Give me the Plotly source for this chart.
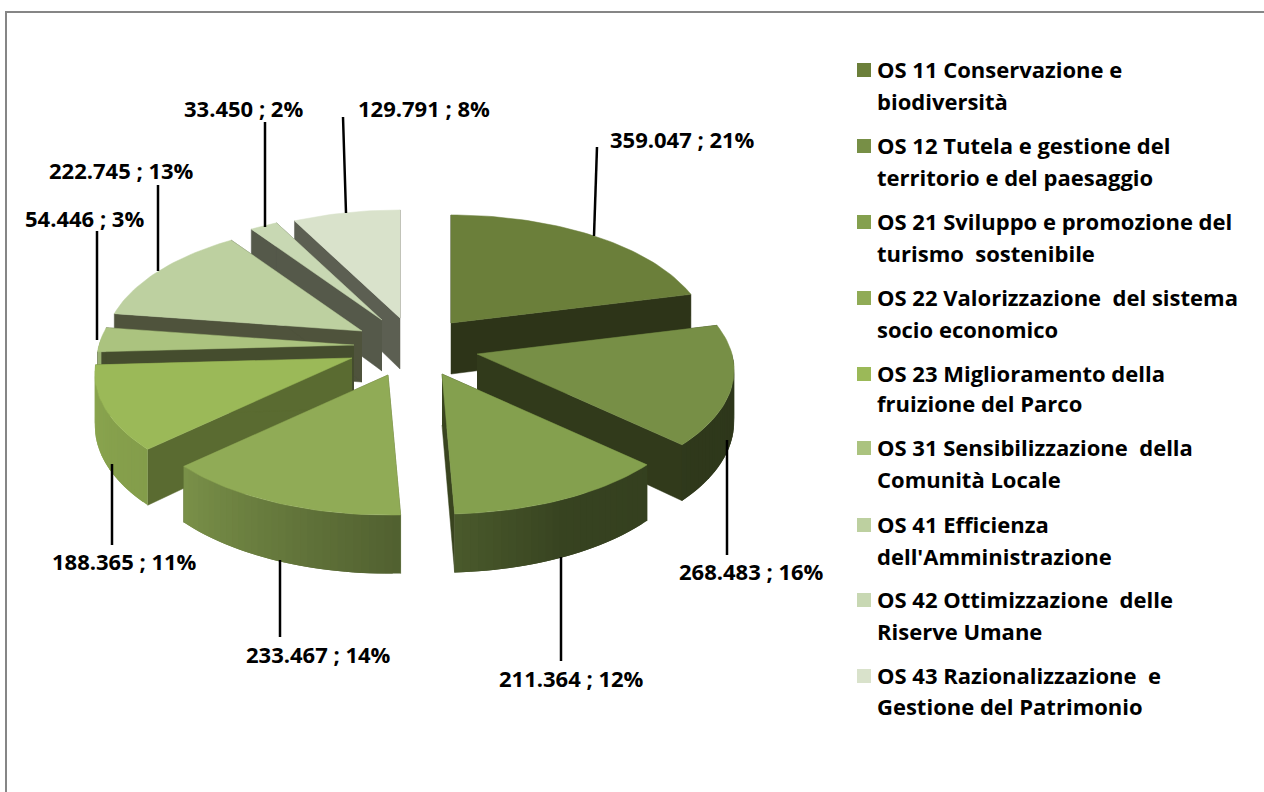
import math
import plotly.graph_objects as go

# ---- data ----
categories = [
    "OS 11 Conservazione e<br>biodiversità",
    "OS 12 Tutela e gestione del<br>territorio e del paesaggio",
    "OS 21 Sviluppo e promozione del<br>turismo  sostenibile",
    "OS 22 Valorizzazione  del sistema<br>socio economico",
    "OS 23 Miglioramento della<br>fruizione del Parco",
    "OS 31 Sensibilizzazione  della<br>Comunità Locale",
    "OS 41 Efficienza<br>dell'Amministrazione",
    "OS 42 Ottimizzazione  delle<br>Riserve Umane",
    "OS 43 Razionalizzazione  e<br>Gestione del Patrimonio",
]
values = [359047, 268483, 211364, 233467, 188365, 54446, 222745, 33450, 129791]

# ---- style ----
top_colors = ["#6b7f3a", "#778f46", "#84a04e", "#90ab56", "#9bb958",
              "#abc37f", "#bdd0a0", "#c8d8b3", "#d9e2cb"]
radial_colors = ["#2d3418", "#313a1b", "#39441f", "#56662f", "#5a6b31",
                 "#454d2e", "#4f533c", "#55594a", "#5c5f52"]
apex_px = [(451, 323), (477, 354), (442, 374), (388, 375), (352, 358),
           (354, 345), (362, 331), (382, 320), (400, 318)]
paint_order = [8, 7, 6, 5, 4, 3, 0, 1, 2]
label_px = [(682, 139), (751, 571), (571, 678), (318, 654), (124, 561),
            (84, 218), (121, 170), (243, 108), (424, 108)]
leader_px = [((597, 147), (594, 236)), ((727, 440), (727, 555)), ((561, 557), (561, 661)),
             ((280, 560), (280, 637)), ((112, 464), (112, 545)), ((97, 231), (97, 340)),
             ((158, 185), (158, 271)), ((265, 122), (265, 227)), ((343, 117), (346, 213))]
legend_y = [(69, 101), (145, 177), (221, 253), (297, 329), (373, 403),
            (447, 479), (524, 556), (599, 631), (675, 706)]
FONT = "Open Sans"
FONT_SIZE = 22
RX, RY, H, K = 255, 122, 51, 0.129
shade_t = [0, 90, 132, 155, 177, 227, 267, 360]
shade_v = [0.36, 0.38, 0.40, 0.42, 0.56, 0.85, 0.90, 0.9]


def rgb(hexs):
    return tuple(int(hexs[i:i + 2], 16) for i in (1, 3, 5))


def scaled(hexs, f):
    return "rgb(%d,%d,%d)" % tuple(min(255, int(c * f)) for c in rgb(hexs))


def shade(t):
    for i in range(len(shade_t) - 1):
        if shade_t[i] <= t <= shade_t[i + 1]:
            a = (t - shade_t[i]) / (shade_t[i + 1] - shade_t[i])
            return shade_v[i] + a * (shade_v[i + 1] - shade_v[i])
    return shade_v[-1]


def project(apex, t, r=1.0):
    a = math.radians(t)
    X, Z = r * math.sin(a), -r * math.cos(a)
    s = 1 / (1 - K * Z)
    return apex[0] + RX * X * s, apex[1] + RY * Z * s, H * s


fig = go.Figure()


def poly(xs, ys, color, name=None, width=0):
    fig.add_trace(go.Scatter(
        x=xs, y=ys, mode="lines", fill="toself", fillcolor=color,
        line=dict(color=color, width=width), hoverinfo="skip" if name is None else "text",
        text=name, showlegend=False))


total = sum(values)
starts, cum = [], 0
for v in values:
    starts.append(cum / total * 360)
    cum += v

for i in paint_order:
    t0 = starts[i]
    t1 = t0 + values[i] / total * 360
    ap = apex_px[i]
    n = max(2, int((t1 - t0) / 1.5))
    ts = [t0 + (t1 - t0) * k / n for k in range(n + 1)]
    pts = [project(ap, t) for t in ts]
    # radial walls
    for p in (pts[0], pts[-1]):
        poly([ap[0], p[0], p[0], ap[0]], [ap[1], p[1], p[1] + p[2], ap[1] + H],
             radial_colors[i], width=0.5)
    # outer wall, only where it faces the viewer; strips overlap to hide seams
    for k in range(n):
        tm = (ts[k] + ts[k + 1]) / 2
        if not 90 <= tm <= 272:
            continue
        a = pts[k]
        b = pts[min(k + 2, n)]
        poly([a[0], b[0], b[0], a[0]], [a[1], b[1], b[1] + b[2], a[1] + a[2]],
             scaled(top_colors[i], shade(tm)))
    # top face
    poly([ap[0]] + [p[0] for p in pts] + [ap[0]], [ap[1]] + [p[1] for p in pts] + [ap[1]],
         top_colors[i], name=categories[i].replace("<br>", " "), width=0.5)

# chart frame
fig.add_trace(go.Scatter(x=[6, 6, 1264], y=[792, 12, 12], mode="lines",
                         line=dict(color="#868686", width=2), hoverinfo="skip", showlegend=False))

# leader lines
for (a, b) in leader_px:
    fig.add_trace(go.Scatter(x=[a[0], b[0]], y=[a[1], b[1]], mode="lines",
                             line=dict(color="#000000", width=2.5), hoverinfo="skip", showlegend=False))

# legend swatches
fig.add_trace(go.Scatter(
    x=[864] * len(categories), y=[ly[0] + 1 for ly in legend_y], mode="markers",
    marker=dict(symbol="square", size=14, color=top_colors, line=dict(width=0)),
    hoverinfo="skip", showlegend=False))

anns = []
for i, v in enumerate(values):
    label = f"{v:,}".replace(",", ".") + " ; " + f"{round(v / total * 100)}%"
    anns.append(dict(x=label_px[i][0], y=label_px[i][1], text=label, showarrow=False,
                     xanchor="center", yanchor="middle",
                     font=dict(family=FONT, size=FONT_SIZE, color="#000000", weight="bold")))
    for line, ly in zip(categories[i].split("<br>"), legend_y[i]):
        anns.append(dict(x=875, y=ly, text=line, showarrow=False, xanchor="left", yanchor="middle",
                         font=dict(family=FONT, size=FONT_SIZE, color="#000000", weight="bold")))

fig.update_layout(
    width=1264, height=792, margin=dict(l=0, r=0, t=0, b=0, autoexpand=False),
    paper_bgcolor="#ffffff", plot_bgcolor="#ffffff", annotations=anns, showlegend=False,
    xaxis=dict(range=[0, 1264], visible=False, fixedrange=True),
    yaxis=dict(range=[792, 0], visible=False, fixedrange=True),
)
fig.write_html("out.html", config={"displayModeBar": False},
               post_script="document.body.style.margin='0';document.body.style.overflow='hidden';")
